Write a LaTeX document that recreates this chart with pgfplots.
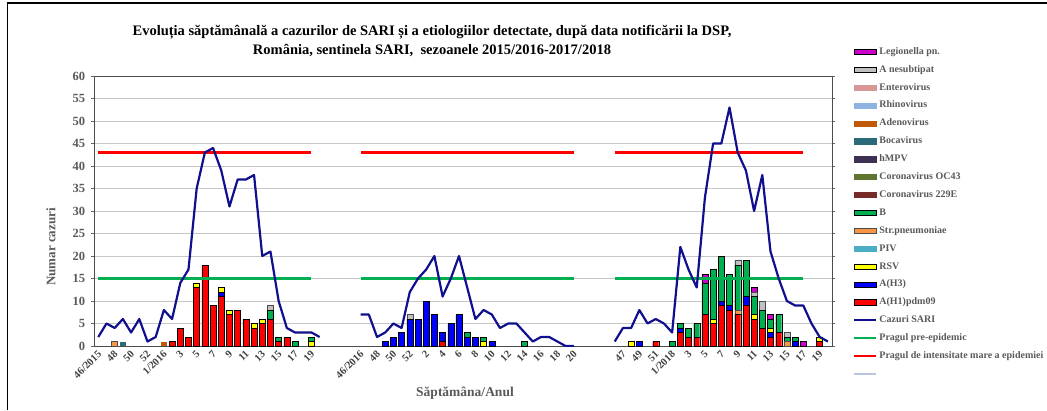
\documentclass[border=0pt]{standalone}
\usepackage{pgfplots}
\usepackage{pgfplotstable}
\pgfplotsset{compat=1.18}
\usepackage{fontspec}
\setmainfont{Liberation Serif}
\definecolor{cH1}{HTML}{FF0000}
\definecolor{cH3}{HTML}{0000FF}
\definecolor{cRSV}{HTML}{FFFF00}
\definecolor{cPIV}{HTML}{4BACC6}
\definecolor{cStr}{HTML}{F79646}
\definecolor{cB}{HTML}{00B050}
\definecolor{cC229}{HTML}{772C2A}
\definecolor{cOC43}{HTML}{5F7530}
\definecolor{chMPV}{HTML}{3F3151}
\definecolor{cBoca}{HTML}{2B6A78}
\definecolor{cAdeno}{HTML}{C0580A}
\definecolor{cRhino}{HTML}{8DB3E2}
\definecolor{cEntero}{HTML}{D99795}
\definecolor{cAnes}{HTML}{C0C0C0}
\definecolor{cLeg}{HTML}{CC00CC}
\definecolor{cSARI}{HTML}{10108F}
\definecolor{cPre}{HTML}{00B050}
\definecolor{cInt}{HTML}{FF0000}
\definecolor{cBlank}{HTML}{B9C4DE}
\definecolor{txtgray}{HTML}{595959}
\definecolor{ticktxt}{HTML}{404040}

\pgfplotstableread{
x H1 H3 RSV PIV Str B C229 OC43 hMPV Boca Adeno Rhino Entero Anes Leg
2 0 0 0 0 1 0 0 0 0 0 0 0 0 0 0
3 0 0 0 0 0 0 0 0 0 1 0 0 0 0 0
8 0 0 0 0 0 0 0 0 0 0 1 0 0 0 0
9 1 0 0 0 0 0 0 0 0 0 0 0 0 0 0
10 4 0 0 0 0 0 0 0 0 0 0 0 0 0 0
11 2 0 0 0 0 0 0 0 0 0 0 0 0 0 0
12 13 0 1 0 0 0 0 0 0 0 0 0 0 0 0
13 18 0 0 0 0 0 0 0 0 0 0 0 0 0 0
14 9 0 0 0 0 0 0 0 0 0 0 0 0 0 0
15 11 1 1 0 0 0 0 0 0 0 0 0 0 0 0
16 7 0 1 0 0 0 0 0 0 0 0 0 0 0 0
17 8 0 0 0 0 0 0 0 0 0 0 0 0 0 0
18 6 0 0 0 0 0 0 0 0 0 0 0 0 0 0
19 4 0 1 0 0 0 0 0 0 0 0 0 0 0 0
20 5 0 1 0 0 0 0 0 0 0 0 0 0 0 0
21 6 0 0 0 0 2 0 0 0 0 0 0 0 1 0
22 1 0 0 0 0 1 0 0 0 0 0 0 0 0 0
23 2 0 0 0 0 0 0 0 0 0 0 0 0 0 0
24 0 0 0 0 0 1 0 0 0 0 0 0 0 0 0
26 0 0 1 0 0 1 0 0 0 0 0 0 0 0 0
35 0 1 0 0 0 0 0 0 0 0 0 0 0 0 0
36 0 2 0 0 0 0 0 0 0 0 0 0 0 0 0
37 0 3 0 0 0 0 0 0 0 0 0 0 0 0 0
38 0 6 0 0 0 0 0 0 0 0 0 0 0 1 0
39 0 6 0 0 0 0 0 0 0 0 0 0 0 0 0
40 0 10 0 0 0 0 0 0 0 0 0 0 0 0 0
41 0 7 0 0 0 0 0 0 0 0 0 0 0 0 0
42 1 2 0 0 0 0 0 0 0 0 0 0 0 0 0
43 0 5 0 0 0 0 0 0 0 0 0 0 0 0 0
44 0 7 0 0 0 0 0 0 0 0 0 0 0 0 0
45 0 2 0 0 0 1 0 0 0 0 0 0 0 0 0
46 0 2 0 0 0 0 0 0 0 0 0 0 0 0 0
47 0 0 1 0 0 1 0 0 0 0 0 0 0 0 0
48 0 1 0 0 0 0 0 0 0 0 0 0 0 0 0
52 0 0 0 0 0 1 0 0 0 0 0 0 0 0 0
65 0 0 1 0 0 0 0 0 0 0 0 0 0 0 0
66 0 1 0 0 0 0 0 0 0 0 0 0 0 0 0
68 1 0 0 0 0 0 0 0 0 0 0 0 0 0 0
70 0 0 0 0 0 1 0 0 0 0 0 0 0 0 0
71 3 1 0 0 0 1 0 0 0 0 0 0 0 0 0
72 2 0 0 0 0 2 0 0 0 0 0 0 0 0 0
73 2 0 0 0 0 3 0 0 0 0 0 0 0 0 0
74 7 0 0 0 0 7 0 0 0 0 0 0 0 0 2
75 5 0 1 0 0 11 0 0 0 0 0 0 0 0 0
76 9 1 0 0 0 10 0 0 0 0 0 0 0 0 0
77 8 1 0 0 0 7 0 0 0 0 0 0 0 0 0
78 7 0 0 0 1 10 0 0 0 0 0 0 0 1 0
79 9 2 0 0 0 8 0 0 0 0 0 0 0 0 0
80 6 0 1 0 0 4 0 0 0 0 0 0 0 1 1
81 4 0 0 0 0 4 0 0 0 0 0 0 0 2 0
82 2 1 1 0 0 2 0 0 0 0 0 0 0 0 1
83 3 0 0 0 0 4 0 0 0 0 0 0 0 0 0
84 0 0 0 0 1 1 0 0 0 0 0 0 0 1 0
85 0 1 0 0 0 1 0 0 0 0 0 0 0 0 0
86 0 0 0 0 0 0 0 0 0 0 0 0 0 0 1
88 1 0 1 0 0 0 0 0 0 0 0 0 0 0 0
}\bars

\begin{document}
\begin{tikzpicture}
\begin{axis}[
  at={(94.2pt,64pt)}, anchor=south west,
  scale only axis, width=737.8pt, height=270pt,
  xmin=-0.5, xmax=89.5, ymin=0, ymax=60,
  enlarge x limits=false, enlarge y limits=false,
  ybar stacked, bar width=6pt,
  ytick={0,5,...,60},
  ymajorgrids, grid style={black!22, line width=0.9pt},
  xtick={0,2,...,88},
  xticklabels={46/2015,48,50,52,1/2016,3,5,7,9,11,13,15,17,19,{},{},46/2016,48,50,52,2,4,6,8,10,12,14,16,18,20,{},{},47,49,51,1/2018,3,5,7,9,11,13,15,17,19},
  xtick style={draw=none},
  ytick style={black!60, line width=0.6pt},
  tick align=outside, major tick length=3.5pt,
  /pgf/number format/assume math mode=true,
  y tick label style={font=\fontsize{12.5}{12.5}\selectfont\bfseries, text=txtgray, xshift=-2pt},
  x tick label style={rotate=45, anchor=east, font=\fontsize{10.5}{11}\selectfont\bfseries, text=ticktxt, inner sep=1pt, yshift=-3pt},
  axis line style={black!70, line width=0.7pt},
  every axis plot/.append style={line width=0.4pt},
]
\addplot[fill=cH1, draw=black] table[x=x,y=H1]{\bars};
\addplot[fill=cH3, draw=black] table[x=x,y=H3]{\bars};
\addplot[fill=cRSV, draw=black] table[x=x,y=RSV]{\bars};
\addplot[fill=cPIV, draw=none] table[x=x,y=PIV]{\bars};
\addplot[fill=cStr, draw=black!70] table[x=x,y=Str]{\bars};
\addplot[fill=cB, draw=black] table[x=x,y=B]{\bars};
\addplot[fill=cC229, draw=none] table[x=x,y=C229]{\bars};
\addplot[fill=cOC43, draw=none] table[x=x,y=OC43]{\bars};
\addplot[fill=chMPV, draw=none] table[x=x,y=hMPV]{\bars};
\addplot[fill=cBoca, draw=none] table[x=x,y=Boca]{\bars};
\addplot[fill=cAdeno, draw=none] table[x=x,y=Adeno]{\bars};
\addplot[fill=cRhino, draw=none] table[x=x,y=Rhino]{\bars};
\addplot[fill=cEntero, draw=none] table[x=x,y=Entero]{\bars};
\addplot[fill=cAnes, draw=black!70] table[x=x,y=Anes]{\bars};
\addplot[fill=cLeg, draw=black] table[x=x,y=Leg]{\bars};
\end{axis}

\begin{axis}[
  at={(94.2pt,64pt)}, anchor=south west,
  scale only axis, width=737.8pt, height=270pt,
  xmin=-0.5, xmax=89.5, ymin=0, ymax=60,
  hide axis,
  legend style={at={(1.0244,1.1148)}, anchor=north west, draw=none, fill=none,
    font=\fontsize{10}{10}\selectfont\bfseries, text=txtgray,
    row sep=8.9pt, nodes={inner sep=0pt, text height=7pt, text depth=2pt},
    /tikz/every odd column/.append style={column sep=2pt}},
  legend cell align=left,
]
% thresholds
\addplot[cInt, line width=2.4pt, forget plot] coordinates {(0,43) (26,43)};
\addplot[cInt, line width=2.4pt, forget plot] coordinates {(32,43) (58,43)};
\addplot[cInt, line width=2.4pt, forget plot] coordinates {(63,43) (86,43)};
\addplot[cPre, line width=2.4pt, forget plot] coordinates {(0,15) (26,15)};
\addplot[cPre, line width=2.4pt, forget plot] coordinates {(32,15) (58,15)};
\addplot[cPre, line width=2.4pt, forget plot] coordinates {(63,15) (86,15)};
% SARI cases
\addplot[cSARI, line width=2.2pt, line join=round, forget plot] coordinates {
(0,2) (1,5) (2,4) (3,6) (4,3) (5,6) (6,1) (7,2) (8,8) (9,6) (10,14) (11,17) (12,35) (13,43)
(14,44) (15,39) (16,31) (17,37) (18,37) (19,38) (20,20) (21,21) (22,10) (23,4) (24,3) (25,3) (26,3) (27,2)};
\addplot[cSARI, line width=2.2pt, line join=round, forget plot] coordinates {
(32,7) (33,7) (34,2) (35,3) (36,5) (37,4) (38,12) (39,15) (40,17) (41,20) (42,11) (43,15) (44,20)
(45,13) (46,6) (47,8) (48,7) (49,4) (50,5) (51,5) (52,3) (53,1) (54,2) (55,2) (56,1) (57,0) (58,0)};
\addplot[cSARI, line width=2.2pt, line join=round, forget plot] coordinates {
(63,1) (64,4) (65,4) (66,8) (67,5) (68,6) (69,5) (70,3) (71,22) (72,17) (73,13) (74,33) (75,45)
(76,45) (77,53) (78,43) (79,39) (80,30) (81,38) (82,21) (83,15) (84,10) (85,9) (86,9) (87,5) (88,2) (89,1)};
% legend
\addlegendimage{legend image code/.code={\draw[fill=cLeg,draw=black,line width=0.5pt] (0pt,-2.6pt) rectangle (22pt,2.6pt);}}
\addlegendentry{Legionella pn.}
\addlegendimage{legend image code/.code={\draw[fill=cAnes,draw=black,line width=0.5pt] (0pt,-2.6pt) rectangle (22pt,2.6pt);}}
\addlegendentry{A nesubtipat}
\addlegendimage{legend image code/.code={\fill[cEntero] (0pt,-2.6pt) rectangle (22pt,2.6pt);}}
\addlegendentry{Enterovirus}
\addlegendimage{legend image code/.code={\fill[cRhino] (0pt,-2.6pt) rectangle (22pt,2.6pt);}}
\addlegendentry{Rhinovirus}
\addlegendimage{legend image code/.code={\fill[cAdeno] (0pt,-2.6pt) rectangle (22pt,2.6pt);}}
\addlegendentry{Adenovirus}
\addlegendimage{legend image code/.code={\fill[cBoca] (0pt,-2.6pt) rectangle (22pt,2.6pt);}}
\addlegendentry{Bocavirus}
\addlegendimage{legend image code/.code={\fill[chMPV] (0pt,-2.6pt) rectangle (22pt,2.6pt);}}
\addlegendentry{hMPV}
\addlegendimage{legend image code/.code={\fill[cOC43] (0pt,-2.6pt) rectangle (22pt,2.6pt);}}
\addlegendentry{Coronavirus OC43}
\addlegendimage{legend image code/.code={\fill[cC229] (0pt,-2.6pt) rectangle (22pt,2.6pt);}}
\addlegendentry{Coronavirus 229E}
\addlegendimage{legend image code/.code={\draw[fill=cB,draw=black,line width=0.5pt] (0pt,-2.6pt) rectangle (22pt,2.6pt);}}
\addlegendentry{B}
\addlegendimage{legend image code/.code={\draw[fill=cStr,draw=black!70,line width=0.5pt] (0pt,-2.6pt) rectangle (22pt,2.6pt);}}
\addlegendentry{Str.pneumoniae}
\addlegendimage{legend image code/.code={\fill[cPIV] (0pt,-2.6pt) rectangle (22pt,2.6pt);}}
\addlegendentry{PIV}
\addlegendimage{legend image code/.code={\draw[fill=cRSV,draw=black,line width=0.5pt] (0pt,-2.6pt) rectangle (22pt,2.6pt);}}
\addlegendentry{RSV}
\addlegendimage{legend image code/.code={\draw[fill=cH3,draw=black,line width=0.5pt] (0pt,-2.6pt) rectangle (22pt,2.6pt);}}
\addlegendentry{A(H3)}
\addlegendimage{legend image code/.code={\draw[fill=cH1,draw=black,line width=0.5pt] (0pt,-2.6pt) rectangle (22pt,2.6pt);}}
\addlegendentry{A(H1)pdm09}
\addlegendimage{legend image code/.code={\draw[cSARI,line width=2.2pt] (0pt,0pt) -- (22pt,0pt);}}
\addlegendentry{Cazuri SARI}
\addlegendimage{legend image code/.code={\draw[cPre,line width=2.2pt] (0pt,0pt) -- (22pt,0pt);}}
\addlegendentry{Pragul pre-epidemic}
\addlegendimage{legend image code/.code={\draw[cInt,line width=2.2pt] (0pt,0pt) -- (22pt,0pt);}}
\addlegendentry{Pragul de intensitate mare a epidemiei}
\addlegendimage{legend image code/.code={\draw[cBlank,line width=2.2pt] (0pt,0pt) -- (22pt,0pt);}}
\addlegendentry{}
\end{axis}

% title and axis titles
\node[align=center, font=\fontsize{14.5}{19}\selectfont\bfseries] at (432pt,368.5pt)
  {Evoluția săptămânală a cazurilor de SARI și a etiologiilor detectate, după data notificării la DSP,\\
   România, sentinela SARI,\ \ sezoanele 2015/2016-2017/2018};
\node[rotate=90, font=\fontsize{13}{13}\selectfont\bfseries, text=txtgray] at (51pt,163pt) {Numar cazuri};
\node[font=\fontsize{13.5}{13.5}\selectfont\bfseries, text=txtgray] at (465pt,17pt) {Săptămâna/Anul};
% outer frame
\draw[black, line width=1.2pt] (7.5pt,0pt) -- (7.5pt,407pt) -- (1047pt,407pt);
\pgfresetboundingbox
\path[use as bounding box] (0,0) rectangle (1047pt,410pt);
\end{tikzpicture}
\end{document}
